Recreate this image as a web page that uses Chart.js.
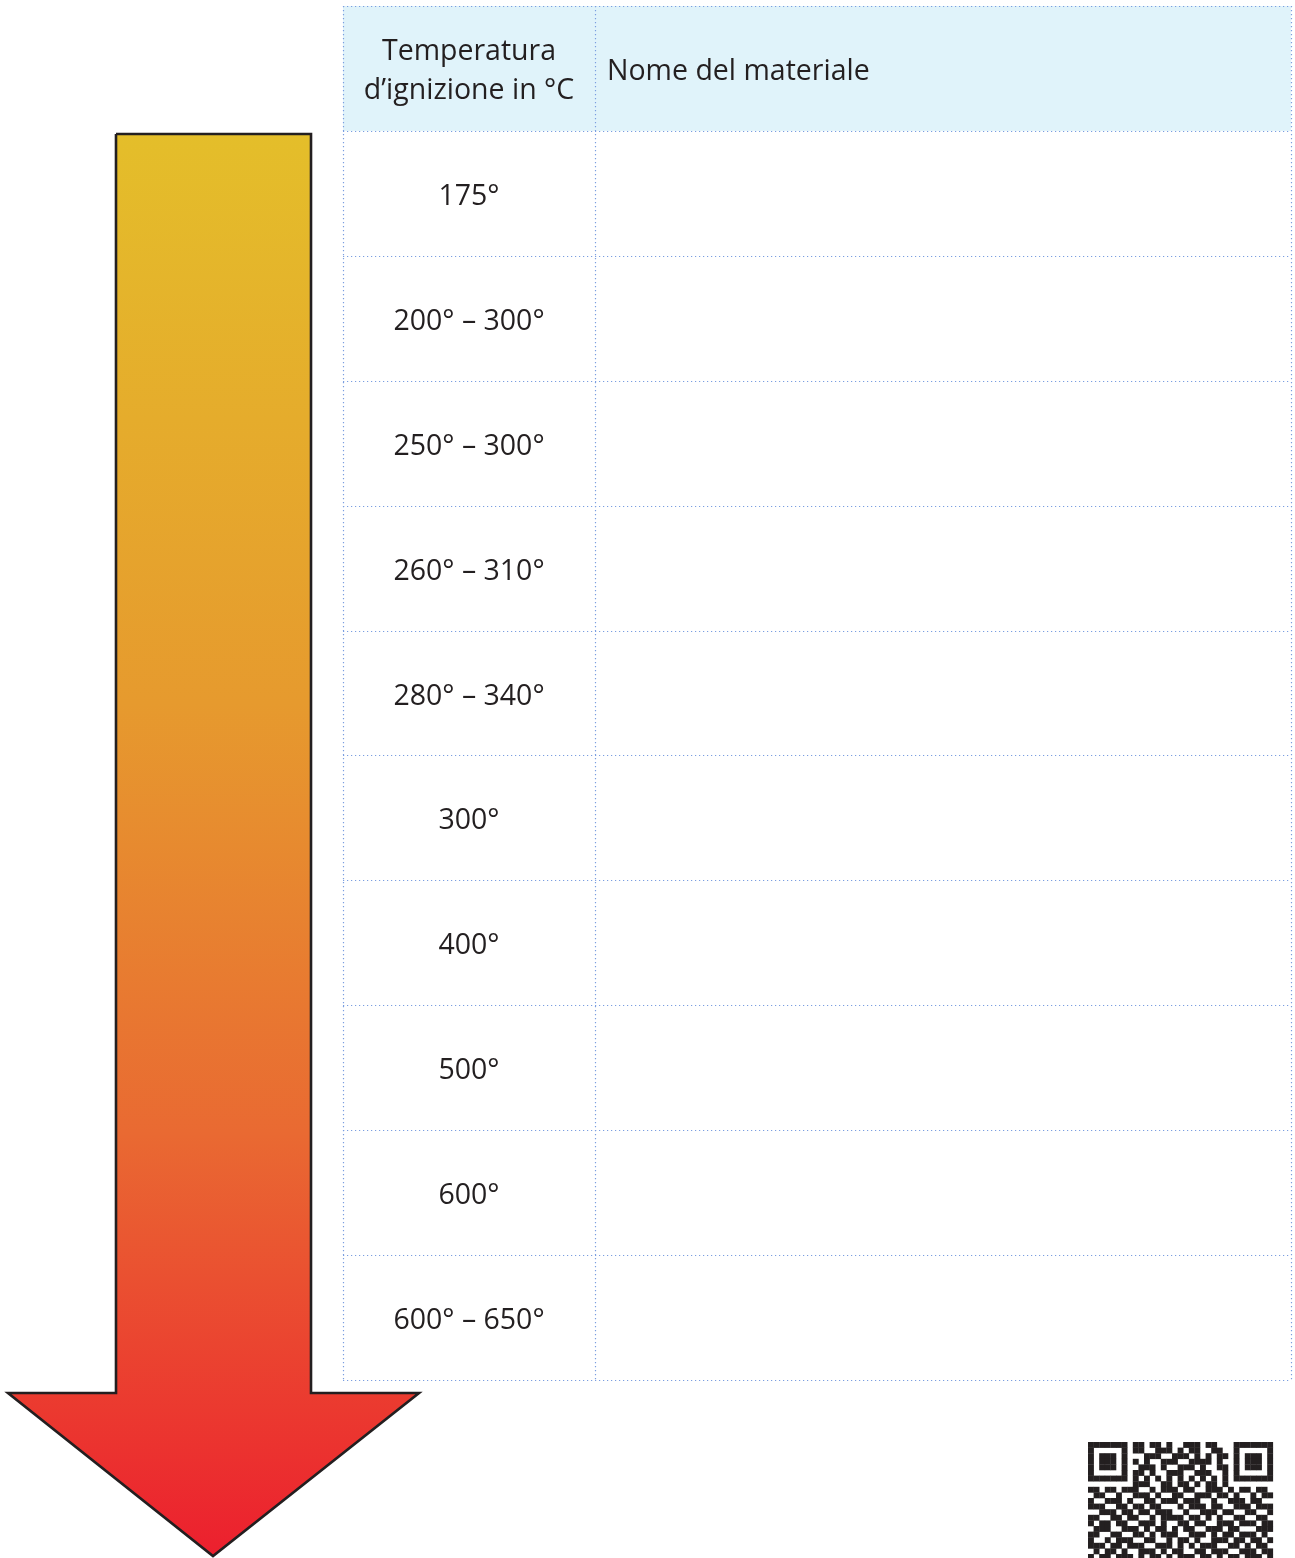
<!DOCTYPE html>
<html lang="it">
<head>
<meta charset="utf-8">
<title>Temperatura d'ignizione</title>
<script src="https://cdn.jsdelivr.net/npm/chart.js@4/dist/chart.umd.min.js"></script>
<style>
  html, body { margin: 0; padding: 0; background: #fff; overflow: hidden; }
  canvas { display: block; }
</style>
</head>
<body>
<canvas id="grafico" width="1295" height="1558"></canvas>
<script>
// intestazioni della tabella
const intestazioneTemp = ["Temperatura", "d’ignizione in °C"]
const intestazioneNome = "Nome del materiale"
// temperature d'ignizione (una riga per materiale)
const temperature = ["175°", "200° – 300°", "250° – 300°", "260° – 310°", "280° – 340°",
                     "300°", "400°", "500°", "600°", "600° – 650°"]
// nomi dei materiali: colonna vuota da completare
const materiali = ["", "", "", "", "", "", "", "", "", ""]

// geometria (unità delle scale, 0..1295 x 0..1558)
const tabella = { sinistra: 343, divisione: 595, destra: 1291, alto: 6, altezzaRiga: 124.9 }
const freccia = [
  { x: 116, y: 134 }, { x: 311, y: 134 }, { x: 311, y: 1393 }, { x: 419, y: 1393 },
  { x: 213, y: 1556 }, { x: 8, y: 1393 }, { x: 116, y: 1393 }, { x: 116, y: 134 }
]

// codice QR (decorativo, in basso a destra)
const qr = [
  "111111101101101001110110001111111",
  "100000101100111010110011001000001",
  "101110100011100111010101101011101",
  "101110101010011100111101001011101",
  "101110100111010011101001101011101",
  "100000101101001110011100101000001",
  "111111101010101010101010101111111",
  "000000001110011011010110100000000",
  "110110111001011101100111010110110",
  "011001001110100110011101101001011",
  "100111010011011101110010011101100",
  "111001101101100010111011001110111",
  "001110110110111001001110110011001",
  "110011011001011110110101001100110",
  "101101100111010011011001110111011",
  "011100111010110101100111011000111",
  "110011001101011100111010110111010",
  "100101110011001011010011101101101",
  "111011011100111010101110011010110",
  "010110100111010110011011100111011",
  "101101110101101011101101011011101"
]
const qrPos = { x: 1088, y: 1442, modulo: 5.6 }

const font = "'Open Sans', 'Noto Sans', sans-serif"

const pluginTabella = {
  id: "tabella",
  afterDatasetsDraw(chart) {
    const { ctx, scales } = chart
    const px = (v) => scales.x.getPixelForValue(v)
    const py = (v) => scales.y.getPixelForValue(v)
    const righe = temperature.length + 1
    const yRiga = (i) => tabella.alto + i * tabella.altezzaRiga
    const xs = px(tabella.sinistra), xd = px(tabella.divisione), xr = px(tabella.destra)
    const yt = py(yRiga(0)), yb = py(yRiga(righe))

    ctx.save()
    // sfondo intestazione
    ctx.fillStyle = "#E0F3FA"
    ctx.fillRect(xs, yt, xr - xs, py(yRiga(1)) - yt)

    // linee punteggiate
    ctx.strokeStyle = "#7B9EE0"
    ctx.lineWidth = 1.2
    ctx.setLineDash([1.2, 2.8])
    for (let i = 0; i <= righe; i++) {
      const y = Math.round(py(yRiga(i))) + 0.5
      ctx.beginPath(); ctx.moveTo(xs, y); ctx.lineTo(xr, y); ctx.stroke()
    }
    for (const x of [xs, xd, xr]) {
      const xx = Math.round(x) + 0.5
      ctx.beginPath(); ctx.moveTo(xx, yt); ctx.lineTo(xx, yb); ctx.stroke()
    }
    ctx.setLineDash([])

    // testi
    ctx.fillStyle = "#231F20"
    ctx.font = "28.5px " + font
    ctx.textBaseline = "middle"
    const xc = (xs + xd) / 2
    ctx.textAlign = "center"
    ctx.fillText(intestazioneTemp[0], xc, yt + 46)
    ctx.fillText(intestazioneTemp[1], xc, yt + 85)
    ctx.textAlign = "left"
    ctx.fillText(intestazioneNome, xd + 12, yt + 66)

    temperature.forEach((t, i) => {
      const yc = (py(yRiga(i + 1)) + py(yRiga(i + 2))) / 2 + 3.5
      ctx.textAlign = "center"
      ctx.fillText(t, xc, yc)
      ctx.textAlign = "left"
      ctx.fillText(materiali[i], xd + 12, yc)
    })

    // QR
    ctx.fillStyle = "#231F20"
    qr.forEach((riga, r) => {
      for (let c = 0; c < riga.length; c++) {
        if (riga[c] === "1") {
          ctx.fillRect(px(qrPos.x + c * qrPos.modulo), py(qrPos.y + r * qrPos.modulo),
                       qrPos.modulo + 0.3, qrPos.modulo + 0.3)
        }
      }
    })
    ctx.restore()
  }
}

const grafico = new Chart(document.getElementById("grafico"), {
  type: "scatter",
  data: {
    datasets: [{
      label: "freccia",
      data: freccia,
      showLine: true,
      fill: "shape",
      tension: 0,
      pointRadius: 0,
      borderColor: "#231F20",
      borderWidth: 2.6,
      borderJoinStyle: "miter",
      backgroundColor: (context) => {
        const { chart } = context
        const { ctx, chartArea, scales } = chart
        if (!chartArea) return "#E8902F"
        const g = ctx.createLinearGradient(0, scales.y.getPixelForValue(134), 0, scales.y.getPixelForValue(1558))
        g.addColorStop(0, "#E4BE2A")
        g.addColorStop(0.4, "#E69A2E")
        g.addColorStop(0.7, "#E96A32")
        g.addColorStop(1, "#EC1F2E")
        return g
      }
    }]
  },
  options: {
    responsive: false,
    animation: false,
    layout: { padding: 0 },
    plugins: { legend: { display: false }, tooltip: { enabled: false } },
    scales: {
      x: { type: "linear", min: 0, max: 1295, display: false },
      y: { type: "linear", min: 0, max: 1558, reverse: true, display: false }
    }
  },
  plugins: [pluginTabella]
})
</script>
</body>
</html>
